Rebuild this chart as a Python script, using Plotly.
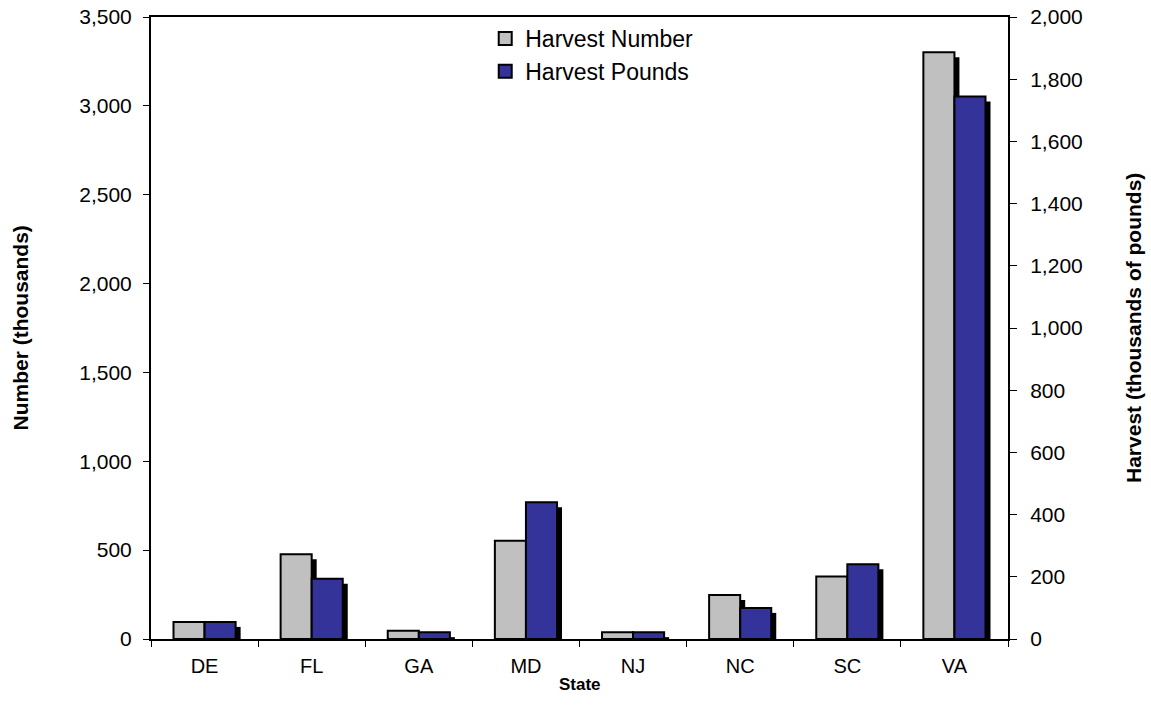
import plotly.graph_objects as go

states = ["DE", "FL", "GA", "MD", "NJ", "NC", "SC", "VA"]
harvest_number = [95, 477, 47, 553, 38, 248, 351, 3301]      # thousands of fish (left axis)
harvest_pounds = [55, 194, 22, 440, 22, 100, 240, 1744]      # thousands of pounds (right axis)

left_ticks = list(range(0, 3501, 500))
right_ticks = list(range(0, 2001, 200))

FONT = "Liberation Sans, Arial, sans-serif"
GRAY = "#C0C0C0"
BLUE = "#333399"

W, H = 1151, 721
L, R, T, B = 151, 143, 17, 82
plot_w = W - L - R
plot_h = H - T - B

bw = 0.29
sh_x = 5 / (plot_w / len(states))           # shadow shift, category units
sh_y1 = 5 / (plot_h / 3500)                 # shadow shift, left axis units
sh_y2 = 5 / (plot_h / 2000)                 # shadow shift, right axis units

fig = go.Figure()

# shadows + bars for Harvest Number (left axis)
fig.add_trace(go.Bar(x=states, y=harvest_number, base=-sh_y1, offset=-bw + sh_x, width=bw,
                     marker=dict(color="black", line=dict(width=0)), showlegend=False,
                     hoverinfo="skip", cliponaxis=False, yaxis="y"))
fig.add_trace(go.Bar(x=states, y=harvest_number, offset=-bw, width=bw, name="Harvest Number",
                     marker=dict(color=GRAY, line=dict(color="black", width=2)), yaxis="y",
                     showlegend=False))

# shadows + bars for Harvest Pounds (right axis)
fig.add_trace(go.Bar(x=states, y=harvest_pounds, base=-sh_y2, offset=sh_x, width=bw,
                     marker=dict(color="black", line=dict(width=0)), showlegend=False,
                     hoverinfo="skip", cliponaxis=False, yaxis="y2"))
fig.add_trace(go.Bar(x=states, y=harvest_pounds, offset=0, width=bw, name="Harvest Pounds",
                     marker=dict(color=BLUE, line=dict(color="black", width=2)), yaxis="y2",
                     showlegend=False))

# legend entries (square swatches)
for name, col in [("Harvest Number", GRAY), ("Harvest Pounds", BLUE)]:
    fig.add_trace(go.Scatter(x=[None], y=[None], mode="markers", name=name,
                             marker=dict(symbol="square", size=13, color=col,
                                         line=dict(color="black", width=2)),
                             showlegend=True, hoverinfo="skip"))

fig.update_layout(
    width=W, height=H,
    margin=dict(l=L, r=R, t=T, b=B, autoexpand=False),
    paper_bgcolor="white", plot_bgcolor="white",
    barmode="overlay",
    font=dict(family=FONT, size=20, color="black"),
    showlegend=True,
    legend=dict(x=0.39, y=1.0, xanchor="left", yanchor="top",
                font=dict(size=23, family=FONT), bgcolor="rgba(0,0,0,0)",
                itemwidth=30, tracegroupgap=0, traceorder="normal"),
    xaxis=dict(type="category", categoryorder="array", categoryarray=states,
               showline=True, linecolor="black", linewidth=2, mirror=True,
               ticks="outside", ticklen=6, tickwidth=1, tickcolor="black",
               tickson="boundaries", showgrid=False, zeroline=False,
               tickfont=dict(size=20), range=[-0.5, len(states) - 0.5],
               ticklabelstandoff=8),
    yaxis=dict(range=[0, 3500], tickvals=left_ticks, tickformat=",",
               showline=True, linecolor="black", linewidth=2,
               ticks="outside", ticklen=6, tickwidth=1, tickcolor="black",
               showgrid=False, zeroline=False, tickfont=dict(size=21),
               ticklabelstandoff=7),
    yaxis2=dict(range=[0, 2000], tickvals=right_ticks, tickformat=",",
                overlaying="y", side="right", anchor="x",
                showline=True, linecolor="black", linewidth=2,
                ticks="outside", ticklen=7, tickwidth=1, tickcolor="black",
                showgrid=False, zeroline=False, tickfont=dict(size=21),
                ticklabelstandoff=9),
    annotations=[
        dict(text="<b>Number (thousands)</b>", xref="paper", yref="paper",
             x=(19.5 - L) / plot_w, y=0.5, textangle=-90, showarrow=False,
             xanchor="center", yanchor="middle", font=dict(size=21)),
        dict(text="<b>Harvest (thousands of pounds)</b>", xref="paper", yref="paper",
             x=(1133 - L) / plot_w, y=0.5, textangle=-90, showarrow=False,
             xanchor="center", yanchor="middle", font=dict(size=21)),
        dict(text="<b>State</b>", xref="paper", yref="paper",
             x=0.5, y=(639 - 684) / plot_h, showarrow=False,
             xanchor="center", yanchor="middle", font=dict(size=17)),
    ],
)

fig.write_html("out.html", config={"displayModeBar": False},
               post_script="document.body.style.margin='0';document.body.style.overflow='hidden';")
